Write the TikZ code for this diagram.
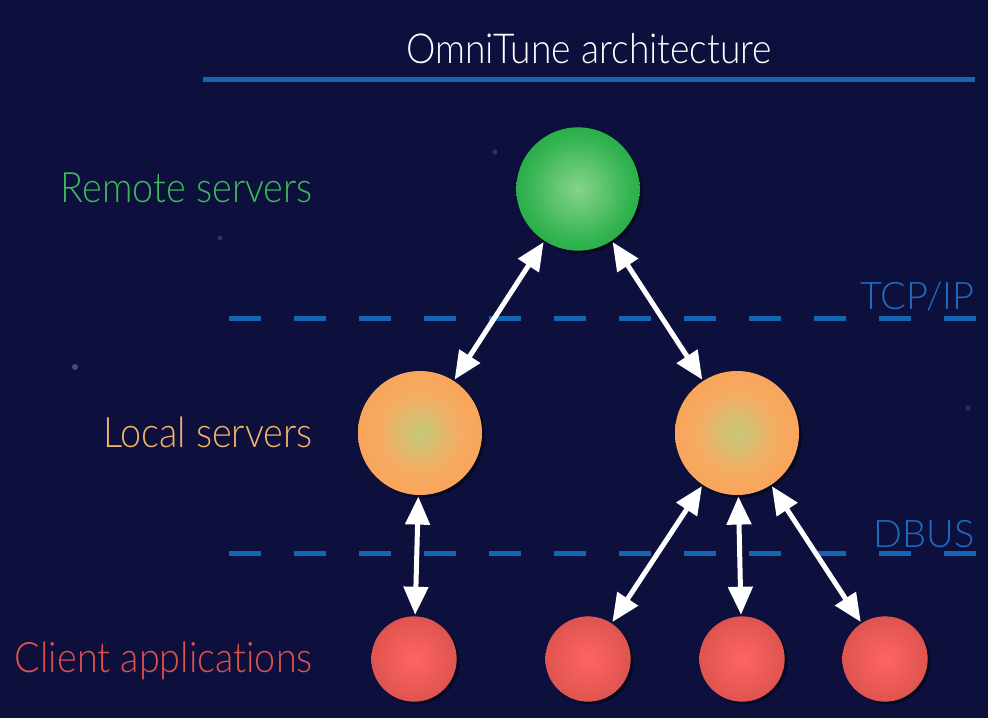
\documentclass[tikz,border=0pt]{standalone}
\usepackage{fontspec}
\setmainfont{Lato}[UprightFont={* Light}, FakeStretch=0.9, Ligatures=NoCommon]
\newfontfamily\protofont{Lato}[UprightFont={* Light}, Ligatures=NoCommon]
\usetikzlibrary{arrows.meta,shadows}

% palette
\definecolor{bg}{HTML}{0D0F3D}
\definecolor{rule}{HTML}{1565B5}
\definecolor{proto}{HTML}{1F6BBF}
\definecolor{remotetxt}{HTML}{3DB85A}
\definecolor{localtxt}{HTML}{F2B466}
\definecolor{clienttxt}{HTML}{E0504C}
% ball shades
\definecolor{gA}{HTML}{86D48B}\definecolor{gB}{HTML}{30B24E}\definecolor{gC}{HTML}{12A03E}\definecolor{gD}{HTML}{0A8C34}
\definecolor{oA}{HTML}{C4C97A}\definecolor{oB}{HTML}{F5AC62}\definecolor{oC}{HTML}{FF9D56}\definecolor{oD}{HTML}{FA924F}
\definecolor{rA}{HTML}{FF6464}\definecolor{rB}{HTML}{E05550}\definecolor{rC}{HTML}{C0443E}\definecolor{rD}{HTML}{A43832}

\pgfdeclareradialshading{greenball}{\pgfpoint{0bp}{0bp}}{color(0bp)=(gA); color(22bp)=(gB); color(44bp)=(gC); color(48bp)=(gD); color(50bp)=(gD)}
\pgfdeclareradialshading{orangeball}{\pgfpoint{0bp}{0bp}}{color(0bp)=(oA); color(16bp)=(oB); color(34bp)=(oC); color(47bp)=(oC); color(50bp)=(oD)}
\pgfdeclareradialshading{redball}{\pgfpoint{0bp}{0bp}}{color(0bp)=(rA); color(24bp)=(rB); color(46bp)=(rC); color(50bp)=(rD)}

\tikzset{
  ball/.style={circle, inner sep=0pt, shade,
    drop shadow={opacity=0.45, shadow xshift=2pt, shadow yshift=-2pt, fill=black}},
  remote/.style={ball, shading=greenball, minimum size=92.5pt},
  localsrv/.style={ball, shading=orangeball, minimum size=93pt},
  client/.style={ball, shading=redball, minimum size=64pt},
  conn/.style={draw=white, line width=3.75pt,
    {Triangle[length=21pt,width=18pt]}-{Triangle[length=21pt,width=18pt]},
    shorten <=1pt, shorten >=1pt},
  layerline/.style={draw=rule, line width=3.75pt, dash pattern=on 24pt off 24.75pt},
  tier/.style={font=\fontsize{31.5pt}{36pt}\selectfont, anchor=base east, inner sep=0pt},
  proto/.style={font=\protofont\fontsize{28.5pt}{33pt}\selectfont, anchor=base east, inner sep=0pt, text=proto},
  star/.style={fill=white, opacity=0.25}
}

\begin{document}
\begin{tikzpicture}[x=0.75pt, y=-0.75pt]
  % backdrop
  \fill[bg] (0,0) rectangle (988,718);
  \useasboundingbox (0,0) rectangle (988,718);
  \fill[star] (75,367) circle (3);
  \fill[star, opacity=0.15] (220,238) circle (2.5);
  \fill[star, opacity=0.15] (495,152) circle (2.5);
  \fill[star, opacity=0.15] (968,408) circle (2.5);

  % title and rule
  \node[font=\fontsize{31pt}{36pt}\selectfont, text=white, anchor=base, inner sep=0pt] (title) at (589,63) {OmniTune architecture};
  \coordinate (ruleL) at (203,79);
  \coordinate (ruleR) at (975,79);
  \draw[rule, line width=3.75pt] (ruleL) -- (ruleR);

  % layer separators
  \coordinate (tcpL) at (229,318);
  \coordinate (tcpR) at (976,318);
  \coordinate (dbusL) at (229,553);
  \coordinate (dbusR) at (976,553);
  \draw[layerline] (tcpL) -- (tcpR);
  \draw[layerline] (dbusL) -- (dbusR);
  \node[proto] (tcp) at (975,309) {TCP/IP};
  \node[proto] (dbus) at (975,547) {DBUS};

  % tier labels
  \node[tier, text=remotetxt] (lblremote) at (313,202) {Remote servers};
  \node[tier, text=localtxt] (lbllocal) at (313,447) {Local servers};
  \node[tier, text=clienttxt] (lblclient) at (313,672) {Client applications};

  % servers and clients
  \node[remote] (g) at (578,189) {};
  \node[localsrv] (l1) at (420,433) {};
  \node[localsrv] (l2) at (737,433) {};
  \node[client] (c1) at (414,659) {};
  \node[client] (c2) at (588,659) {};
  \node[client] (c3) at (742,659) {};
  \node[client] (c4) at (885,659) {};

  % links
  \draw[conn] (g) -- (l1);
  \draw[conn] (g) -- (l2);
  \draw[conn] (l1) -- (c1);
  \draw[conn] (l2) -- (c2);
  \draw[conn] (l2) -- (c3);
  \draw[conn] (l2) -- (c4);
\end{tikzpicture}
\end{document}
